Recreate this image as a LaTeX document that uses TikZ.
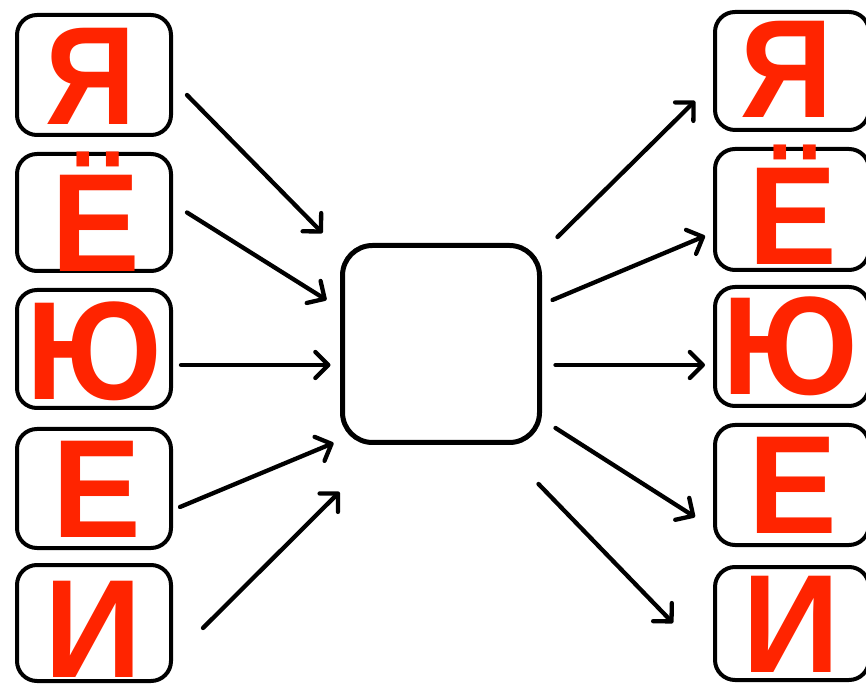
\documentclass[tikz,border=0pt]{standalone}
\usepackage{fontspec}
\setmainfont{Liberation Sans}
\usetikzlibrary{arrows.meta,calc}
\definecolor{lred}{RGB}{255,36,0}
\newcommand{\sq}[2]{\scalebox{#1}[1]{#2}}
\tikzset{
  lbox/.style={draw=black, line width=4pt, rounded corners=20pt, minimum width=154pt, minimum height=118pt, inner sep=0pt, fill=white},
  cbox/.style={draw=black, line width=5pt, rounded corners=30pt, minimum width=197pt, minimum height=197pt, inner sep=0pt},
  letter/.style={text=lred, inner sep=0pt, anchor=base, font=\fontsize{140}{140}\selectfont\bfseries},
  arr/.style={line width=4.3pt, line cap=round, -{Straight Barb[length=13pt,width=26pt,round]}}
}
\begin{document}
\begin{tikzpicture}[x=1pt,y=1pt]
\clip (0,0) rectangle (866,685);
\fill[white] (0,0) rectangle (866,685);
% left boxes
\node[lbox, minimum height=120pt] (L1) at (94,610) {};
\node[lbox, minimum height=117pt] (L2) at (94,472.5) {};
\node[lbox] (L3) at (94,336) {};
\node[lbox, minimum height=119pt] (L4) at (94,196.5) {};
\node[lbox, minimum height=116pt] (L5) at (94,62) {};
% right boxes
\node[lbox] (R1) at (792,614) {};
\node[lbox, minimum height=121pt] (R2) at (792,475.5) {};
\node[lbox, minimum height=119pt] (R3) at (792,338.5) {};
\node[lbox, minimum height=120pt] (R4) at (792,200) {};
\node[lbox, minimum height=113pt] (R5) at (792,61.5) {};
% centre box
\node[cbox] (C) at (441,341) {};
% letters
\node[letter] (tL1) at (90.5,560) {\sq{0.9}{Я}};
\node[letter] (tL2) at (96,413) {\sq{0.95}{Ё}};
\node[letter] (tL3) at (94.5,285) {\sq{0.94}{Ю}};
\node[letter] (tL4) at (96.5,147) {\sq{0.95}{Е}};
\node[letter] (tL5) at (93,8) {\sq{0.97}{И}};
\node[letter] (tR1) at (786.5,567) {\sq{0.92}{Я}};
\node[letter] (tR2) at (792.5,420) {\sq{0.95}{Ё}};
\node[letter] (tR3) at (790,290) {\sq{0.94}{Ю}};
\node[letter] (tR4) at (792.5,152) {\sq{0.95}{Е}};
\node[letter] (tR5) at (791,13) {\sq{0.97}{И}};
% arrows in
\draw[arr] ($(L1.east)+(14,-20)$) -- ($(C.west)+(-17.5,111)$);
\draw[arr] ($(L2.east)+(14,0)$) -- ($(C.west)+(-13.5,44)$);
\draw[arr] ($(L3.east)+(8,-16)$) -- ($(C.west)+(-9.5,-21)$);
\draw[arr] ($(L4.east)+(7,-18.5)$) -- ($(C.west)+(-6.5,-99)$);
\draw[arr] ($(L5.east)+(30,-5)$) -- ($(C.west)+(-0.5,-148)$);
% arrows out
\draw[arr] ($(C.east)+(15.5,107)$) -- ($(R1.west)+(-18,-30)$);
\draw[arr] ($(C.east)+(10.5,44)$) -- ($(R2.west)+(-8,-26.5)$);
\draw[arr] ($(C.east)+(13.5,-21)$) -- ($(R3.west)+(-8,-18.5)$);
\draw[arr] ($(C.east)+(13.5,-84)$) -- ($(R4.west)+(-18,-32)$);
\draw[arr] ($(C.east)+(-3.5,-140)$) -- ($(R5.west)+(-40,0.5)$);
\end{tikzpicture}
\end{document}
